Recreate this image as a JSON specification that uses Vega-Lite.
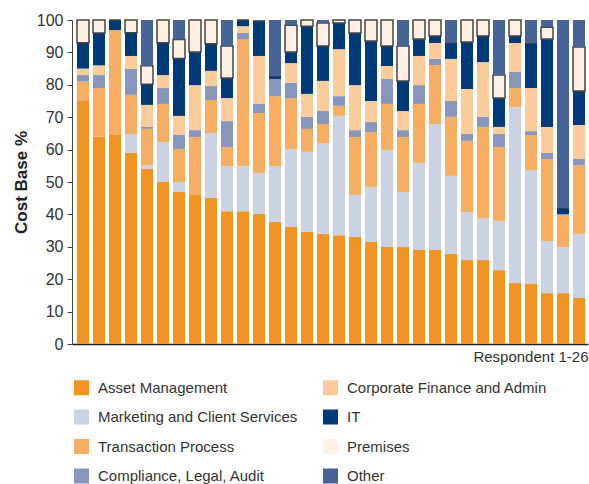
{
  "$schema": "https://vega.github.io/schema/vega-lite/v6.json",
  "width": 516,
  "height": 324,
  "autosize": {"type": "none"},
  "padding": {"left": 72, "top": 20, "right": 1, "bottom": 140},
  "background": "white",
  "config": {"view": {"stroke": null}, "font": "Liberation Sans"},
  "datasets": {
    "cats": [
      {"key": "AM", "name": "Asset Management", "k": 1},
      {"key": "MCS", "name": "Marketing and Client Services", "k": 2},
      {"key": "TP", "name": "Transaction Process", "k": 3},
      {"key": "CLA", "name": "Compliance, Legal, Audit", "k": 4},
      {"key": "CF", "name": "Corporate Finance and Admin", "k": 5},
      {"key": "IT", "name": "IT", "k": 6},
      {"key": "PR", "name": "Premises", "k": 7},
      {"key": "OT", "name": "Other", "k": 8}
    ]
  },
  "data": {
    "values": [
      {"r": 1, "AM": 75, "MCS": 0, "TP": 6, "CLA": 2, "CF": 2, "IT": 8, "PR": 7, "OT": 0},
      {"r": 2, "AM": 64, "MCS": 0, "TP": 15, "CLA": 4, "CF": 3, "IT": 10, "PR": 4, "OT": 0},
      {"r": 3, "AM": 64.5, "MCS": 0, "TP": 32.4, "CLA": 0, "CF": 0, "IT": 3.1, "PR": 0, "OT": 0},
      {"r": 4, "AM": 59, "MCS": 5.8, "TP": 12.1, "CLA": 8, "CF": 4, "IT": 7.2, "PR": 3.9, "OT": 0},
      {"r": 5, "AM": 54, "MCS": 1.2, "TP": 11.2, "CLA": 0.7, "CF": 6.7, "IT": 6.4, "PR": 5.7, "OT": 14.1},
      {"r": 6, "AM": 50, "MCS": 12.3, "TP": 11.8, "CLA": 4.9, "CF": 4, "IT": 10, "PR": 7, "OT": 0},
      {"r": 7, "AM": 46.9, "MCS": 3.1, "TP": 10.2, "CLA": 4.3, "CF": 5.9, "IT": 17.7, "PR": 5.9, "OT": 6},
      {"r": 8, "AM": 46, "MCS": 0, "TP": 17.9, "CLA": 2.1, "CF": 13.9, "IT": 10.2, "PR": 9.9, "OT": 0},
      {"r": 9, "AM": 45.1, "MCS": 20, "TP": 10.2, "CLA": 4.3, "CF": 4.7, "IT": 8.4, "PR": 7.3, "OT": 0},
      {"r": 10, "AM": 41, "MCS": 13.9, "TP": 5.9, "CLA": 8, "CF": 7.1, "IT": 6.2, "PR": 9.9, "OT": 8},
      {"r": 11, "AM": 41, "MCS": 13.9, "TP": 39.2, "CLA": 1.9, "CF": 2.1, "IT": 1.9, "PR": 0, "OT": 0},
      {"r": 12, "AM": 40.1, "MCS": 12.7, "TP": 18.5, "CLA": 2.8, "CF": 14.8, "IT": 10.8, "PR": 0, "OT": 0.3},
      {"r": 13, "AM": 37.7, "MCS": 17.2, "TP": 21.6, "CLA": 5.3, "CF": 0, "IT": 0.9, "PR": 0, "OT": 17.3},
      {"r": 14, "AM": 36.1, "MCS": 24.1, "TP": 15.7, "CLA": 4.7, "CF": 6.1, "IT": 3.4, "PR": 8.3, "OT": 1.6},
      {"r": 15, "AM": 34.6, "MCS": 24.7, "TP": 7.1, "CLA": 3.7, "CF": 7.1, "IT": 20.9, "PR": 1.9, "OT": 0},
      {"r": 16, "AM": 34, "MCS": 28, "TP": 5.9, "CLA": 4, "CF": 9.3, "IT": 10.8, "PR": 7.1, "OT": 0.9},
      {"r": 17, "AM": 33.6, "MCS": 36.8, "TP": 3.1, "CLA": 3, "CF": 14.5, "IT": 8.1, "PR": 0.9, "OT": 0},
      {"r": 18, "AM": 33, "MCS": 13, "TP": 17.9, "CLA": 2.1, "CF": 13.9, "IT": 16.1, "PR": 4, "OT": 0},
      {"r": 19, "AM": 31.5, "MCS": 17, "TP": 16.9, "CLA": 3.1, "CF": 6.5, "IT": 18.5, "PR": 6.5, "OT": 0},
      {"r": 20, "AM": 29.9, "MCS": 30, "TP": 14.2, "CLA": 7.7, "CF": 4, "IT": 6.2, "PR": 8, "OT": 0},
      {"r": 21, "AM": 29.9, "MCS": 17, "TP": 17, "CLA": 2.1, "CF": 5.9, "IT": 9.3, "PR": 10.8, "OT": 8},
      {"r": 22, "AM": 29, "MCS": 26.9, "TP": 18.2, "CLA": 5.8, "CF": 9, "IT": 5.2, "PR": 5.9, "OT": 0},
      {"r": 23, "AM": 29, "MCS": 38.9, "TP": 18.2, "CLA": 1.9, "CF": 4.9, "IT": 2.2, "PR": 4.9, "OT": 0},
      {"r": 24, "AM": 27.8, "MCS": 24.1, "TP": 18.2, "CLA": 4.9, "CF": 13, "IT": 5, "PR": 0, "OT": 7},
      {"r": 25, "AM": 25.9, "MCS": 14.8, "TP": 22, "CLA": 2.1, "CF": 13.9, "IT": 14.5, "PR": 6.8, "OT": 0},
      {"r": 26, "AM": 25.9, "MCS": 13, "TP": 28.1, "CLA": 3.1, "CF": 16.9, "IT": 8.1, "PR": 4.9, "OT": 0},
      {"r": 27, "AM": 22.8, "MCS": 15.2, "TP": 22.8, "CLA": 4, "CF": 2.2, "IT": 8.9, "PR": 7.1, "OT": 17},
      {"r": 28, "AM": 18.8, "MCS": 54.3, "TP": 5.9, "CLA": 5, "CF": 8.9, "IT": 2.2, "PR": 4.9, "OT": 0},
      {"r": 29, "AM": 18.5, "MCS": 35.2, "TP": 10.8, "CLA": 1.2, "CF": 13.3, "IT": 13.9, "PR": 0, "OT": 7.1},
      {"r": 30, "AM": 15.7, "MCS": 16.1, "TP": 25.3, "CLA": 1.9, "CF": 8, "IT": 27.1, "PR": 3.7, "OT": 2.2},
      {"r": 31, "AM": 15.7, "MCS": 14.2, "TP": 9.9, "CLA": 0.3, "CF": 0, "IT": 1.9, "PR": 0, "OT": 58},
      {"r": 32, "AM": 14.2, "MCS": 19.8, "TP": 21.2, "CLA": 1.9, "CF": 10.5, "IT": 10.5, "PR": 13.6, "OT": 8.3}
    ]
  },
  "transform": [
    {"fold": ["AM", "MCS", "TP", "CLA", "CF", "IT", "PR", "OT"], "as": ["key", "val"]},
    {"lookup": "key", "from": {"data": {"name": "cats"}, "key": "key", "fields": ["name", "k"]}}
  ],
  "mark": {"type": "bar", "strokeWidth": 1.5},
  "encoding": {
    "x": {
      "field": "r", "type": "ordinal",
      "scale": {"paddingInner": 0.25, "paddingOuter": 0.25, "align": 0.625},
      "axis": {
        "labels": false, "ticks": false, "domainColor": "#222", "domainWidth": 1.5,
        "title": "Respondent 1-26", "titleAnchor": "end", "titleAlign": "right",
        "titleFontWeight": "normal", "titleFontSize": 15, "titleColor": "#333",
        "titlePadding": 5
      }
    },
    "y": {
      "field": "val", "type": "quantitative", "stack": "zero",
      "scale": {"domain": [0, 100], "nice": false},
      "axis": {
        "values": [0, 10, 20, 30, 40, 50, 60, 70, 80, 90, 100],
        "grid": false, "domainColor": "#444", "tickColor": "#444", "tickSize": 5,
        "labelFontSize": 16, "labelColor": "#333", "labelPadding": 4,
        "title": "Cost Base %", "titleFontSize": 17, "titleFontWeight": "bold",
        "titleColor": "#222", "titlePadding": 6
      }
    },
    "order": {"field": "k", "type": "quantitative", "sort": "ascending"},
    "color": {
      "field": "name", "type": "nominal",
      "scale": {
        "domain": ["Asset Management", "Corporate Finance and Admin", "Marketing and Client Services", "IT", "Transaction Process", "Premises", "Compliance, Legal, Audit", "Other"],
        "range": ["#F39320", "#FCCB9A", "#CBD2E4", "#003A7B", "#F8AE60", "#FEF1E3", "#8896BF", "#46639A"]
      },
      "legend": {
        "orient": "none", "legendX": 1, "legendY": 359, "columns": 2, "direction": "horizontal",
        "title": null, "symbolType": "square", "symbolSize": 225,
        "labelFontSize": 15, "labelColor": "#333", "labelOffset": 8, "labelLimit": 400,
        "rowPadding": 12.5, "columnPadding": 24,
        "encode": {
          "symbols": {
            "update": {
              "stroke": {"signal": "datum.value === 'Premises' ? '#c4b8ac' : 'transparent'"},
              "strokeWidth": {"value": 1}
            }
          }
        }
      }
    },
    "stroke": {
      "condition": {"test": "datum.key === 'PR'", "value": "#444"},
      "value": null
    }
  }
}
